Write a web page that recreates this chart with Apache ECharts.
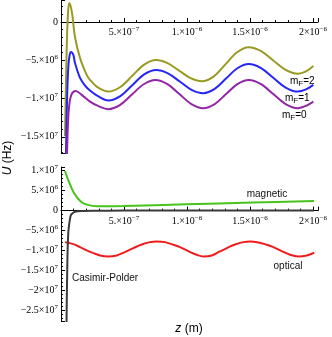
<!DOCTYPE html>
<html>
<head>
<meta charset="utf-8">
<script src="https://cdn.jsdelivr.net/npm/echarts@6/dist/echarts.min.js"></script>
<style>
html, body { margin: 0; padding: 0; background: #fff; }
#chart { width: 332px; height: 337px; }
</style>
</head>
<body>
<div id="chart"></div>
<script>
// z in units of 1e-7 m, U in units of 1e6 Hz

// top panel: total potential for each m_F
const zF2 = [0.32, 0.37, 0.45, 0.53, 0.64, 0.74, 0.90, 1.11, 1.51, 2.04, 2.30, 2.86, 3.76, 4.71, 5.66, 6.60, 7.55, 8.46, 9.38, 10.29, 11.2, 12.13, 13.05, 13.98, 14.9, 15.88, 16.85, 17.83, 18.8, 19.45, 20.03];
const uF2 = [-14.9, -10.2, -3.65, 0.26, 2.44, 2.22, 0.91, -1.96, -4.70, -6.91, -7.55, -8.48, -9.09, -8.49, -7.03, -5.56, -4.96, -5.37, -6.36, -7.34, -7.75, -7.10, -5.53, -3.95, -3.30, -3.80, -5.03, -6.25, -6.75, -6.45, -5.74];

const zF1 = [0.37, 0.40, 0.48, 0.58, 0.69, 0.79, 0.98, 1.11, 1.51, 1.91, 2.30, 2.94, 3.76, 4.71, 5.66, 6.60, 7.55, 8.49, 9.43, 10.36, 11.3, 12.2, 13.1, 14.0, 14.9, 15.88, 16.85, 17.83, 18.8, 19.45, 20.03];
const uF1 = [-19.5, -16.7, -10.17, -5.87, -4.30, -3.91, -4.30, -5.35, -7.30, -8.3, -8.95, -9.7, -10.26, -9.68, -8.26, -6.84, -6.26, -6.70, -7.78, -8.86, -9.30, -8.74, -7.39, -6.04, -5.48, -6.01, -7.29, -8.56, -9.09, -8.8, -8.22];

const zF0 = [0.45, 0.48, 0.58, 0.71, 0.90, 1.17, 1.64, 2.30, 2.94, 3.76, 4.70, 5.63, 6.57, 7.5, 8.45, 9.4, 10.35, 11.3, 12.2, 13.1, 14.0, 14.9, 15.88, 16.85, 17.83, 18.8, 19.45, 20.03];
const uF0 = [-18.5, -16.96, -12.39, -10.17, -9.26, -9.0, -9.52, -10.40, -10.96, -11.39, -10.83, -9.48, -8.13, -7.57, -8.11, -9.42, -10.72, -11.26, -10.72, -9.42, -8.11, -7.57, -8.11, -9.42, -10.72, -11.26, -10.96, -10.40];

// bottom panel: the separate contributions
const zMag = [0.32, 0.64, 1.03, 1.59, 2.06, 2.86, 5.0, 9.93, 15.17, 20.08];
const uMag = [9.9, 7.1, 4.4, 2.2, 1.5, 1.1, 1.15, 1.6, 2.0, 2.4];

const zCP = [0.43, 0.46, 0.50, 0.53, 0.58, 0.64, 0.72, 0.79, 0.95, 1.11, 1.67, 2.6, 5.0, 20.08];
const uCP = [-30, -22, -14, -9.4, -5.5, -3.6, -2.0, -1.1, -0.6, -0.3, -0.12, -0.04, 0, 0];

const zOpt = [0.32, 0.98, 1.51, 2.04, 2.57, 3.10, 3.76, 4.42, 5.08, 5.74, 6.41, 7.07, 7.60, 8.26, 8.92, 9.45, 10.11, 10.77, 11.30, 11.97, 12.62, 13.16, 13.82, 14.47, 15.01, 15.67, 16.33, 16.86, 17.52, 18.18, 18.84, 19.51, 20.1];
const uOpt = [-7.88, -8.38, -9.13, -9.96, -10.63, -11.21, -11.46, -11.21, -10.38, -9.38, -8.46, -7.88, -7.71, -7.88, -8.54, -9.13, -10.13, -11.04, -11.46, -11.21, -10.21, -9.38, -8.46, -7.88, -7.71, -7.96, -8.54, -9.13, -10.13, -11.04, -11.46, -11.21, -10.54];

// tick labels
const zTickVals = [5e-7, 1e-6, 1.5e-6, 2e-6];
const zTickBase = ['5.×10', '1.×10', '1.5×10', '2×10'];
const zTickExp = ['−7', '−6', '−6', '−6'];

const uTickVals = [1e7, 5e6, 0, -5e6, -1e7, -1.5e7, -2e7, -2.5e7];
const uTickBase = ['1.×10', '5.×10', '0', '−5.×10', '−1.×10', '−1.5×10', '−2×10', '−2.5×10'];
const uTickExp = ['7', '6', '', '6', '7', '7', '7', '7'];

const pairs = (zs, us) => zs.map((z, i) => [z * 1e-7, us[i] * 1e6]);

const tickFormatter = (vals, base, exp) => v => {
    const i = vals.findIndex(t => Math.abs(t - v) < Math.abs(vals[0]) * 1e-3 + 1e-12);
    if (i < 0) return '';
    return exp[i] ? '{b|' + base[i] + '}{s|' + exp[i] + '}' : '{b|' + base[i] + '}';
};

const labelRich = {
    b: { fontFamily: 'Liberation Serif', fontSize: 10, color: '#000', lineHeight: 13 },
    s: { fontFamily: 'Liberation Serif', fontSize: 7, color: '#000', lineHeight: 7, verticalAlign: 'top' }
};

const colors = {
    f2: '#9a9a22',
    f1: '#2626f5',
    f0: '#9326a6',
    mag: '#46c31c',
    cp: '#3a3a3a',
    opt: '#f01c1c'
};

const panels = [
    { top: 0, height: 153, min: -17.12e6, max: 2.88e6, split: 4 },
    { top: 167, height: 154, min: -27.6e6, max: 10.9e6, split: 8 }
];

// x axis sits on U = 0 inside each panel
const xAxisFor = (i) => ({
    type: 'value',
    gridIndex: i,
    min: 0,
    max: 2.04e-6,
    interval: 5e-7,
    position: 'bottom',
    offset: -panels[i].height * (0 - panels[i].min) / (panels[i].max - panels[i].min),
    axisLine: { onZero: false, lineStyle: { color: '#000', width: 1 } },
    axisTick: { inside: true, length: 4, lineStyle: { color: '#000' } },
    minorTick: { show: true, splitNumber: 5, length: 2, lineStyle: { color: '#000' } },
    splitLine: { show: false },
    axisLabel: {
        margin: 4,
        formatter: tickFormatter(zTickVals, zTickBase, zTickExp),
        rich: labelRich
    }
});

const yAxisFor = (i) => ({
    type: 'value',
    gridIndex: i,
    min: panels[i].min,
    max: panels[i].max,
    splitNumber: panels[i].split,
    axisLine: { onZero: false, lineStyle: { color: '#000', width: 1 } },
    axisTick: { inside: true, length: 4, lineStyle: { color: '#000' } },
    minorTick: { show: true, splitNumber: 5, length: 2, lineStyle: { color: '#000' } },
    splitLine: { show: false },
    axisLabel: {
        margin: 3,
        formatter: tickFormatter(uTickVals, uTickBase, uTickExp),
        rich: labelRich
    }
});

const lineSeries = (name, axis, zs, us, color) => ({
    name: name,
    type: 'line',
    xAxisIndex: axis,
    yAxisIndex: axis,
    data: pairs(zs, us),
    showSymbol: false,
    smooth: 0.35,
    clip: true,
    lineStyle: { color: color, width: 2 },
    z: 3
});

const subLabel = (n) => ({
    text: '{m|m}{f|F}{m|=' + n + '}',
    rich: {
        m: { fontFamily: 'Liberation Sans', fontSize: 10, color: '#000', lineHeight: 14 },
        f: { fontFamily: 'Liberation Sans', fontSize: 8, color: '#000', lineHeight: 8, verticalAlign: 'bottom' }
    },
    align: 'left',
    verticalAlign: 'middle'
});

const plainLabel = (text, align) => ({
    text: text,
    fontFamily: 'Liberation Sans',
    fontSize: 10,
    fill: '#111',
    align: align,
    verticalAlign: 'middle'
});

const italicTitle = (italic, rest) => ({
    text: '{i|' + italic + '}' + rest,
    rich: {
        i: { fontFamily: 'Liberation Sans', fontSize: 12, fontStyle: 'italic', fill: '#000' }
    },
    fontFamily: 'Liberation Sans', fontSize: 12, fill: '#000',
    align: 'center', verticalAlign: 'middle'
});

const chart = echarts.init(document.getElementById('chart'), null, { renderer: 'canvas' });

const option = {
    animation: false,
    backgroundColor: '#fff',
    grid: panels.map(p => ({ left: 61, top: p.top, width: 257, height: p.height })),
    xAxis: [xAxisFor(0), xAxisFor(1)],
    yAxis: [yAxisFor(0), yAxisFor(1)],
    series: [
        lineSeries('mF=2', 0, zF2, uF2, colors.f2),
        lineSeries('mF=1', 0, zF1, uF1, colors.f1),
        lineSeries('mF=0', 0, zF0, uF0, colors.f0),
        lineSeries('magnetic', 1, zMag, uMag, colors.mag),
        lineSeries('optical', 1, zOpt, uOpt, colors.opt),
        lineSeries('Casimir-Polder', 1, zCP, uCP, colors.cp)
    ],
    graphic: [
        { type: 'text', x: 8, y: 158, rotation: Math.PI / 2, style: italicTitle('U', ' (Hz)') },
        { type: 'text', x: 189, y: 329, style: italicTitle('z', ' (m)') },
        { type: 'text', x: 290, y: 81, style: subLabel(2) },
        { type: 'text', x: 285, y: 98, style: subLabel(1) },
        { type: 'text', x: 282, y: 115, style: subLabel(0) },
        { type: 'text', x: 267, y: 194, style: plainLabel('magnetic', 'center') },
        { type: 'text', x: 288, y: 266, style: plainLabel('optical', 'center') },
        { type: 'text', x: 72, y: 278, style: plainLabel('Casimir-Polder', 'left') }
    ]
};

chart.setOption(option);
</script>
</body>
</html>
